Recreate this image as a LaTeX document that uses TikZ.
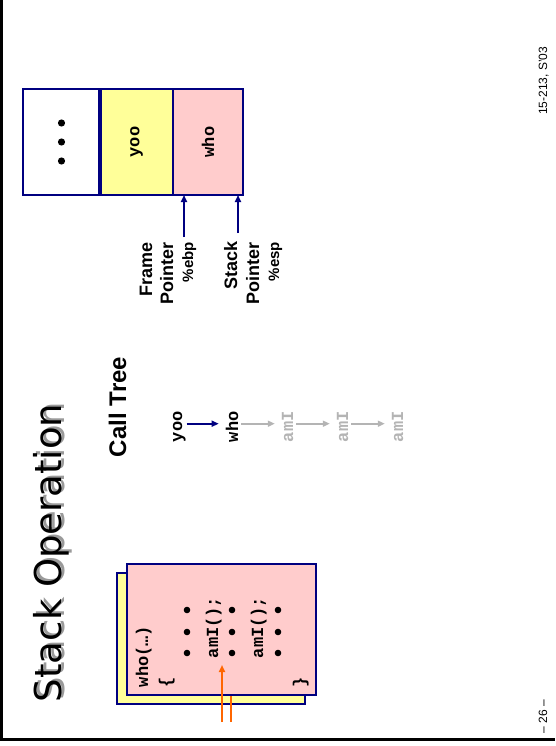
\documentclass[tikz,border=0pt]{standalone}
\usepackage{fontspec}
\setmainfont{Liberation Sans}
\newfontfamily\codefont{Liberation Mono}
\newfontfamily\titlefont{DejaVu Sans}
\usetikzlibrary{arrows.meta}
\definecolor{navy}{HTML}{000080}
\definecolor{framepink}{HTML}{FFCCCC}
\definecolor{frameyellow}{HTML}{FFFF99}
\definecolor{callgray}{HTML}{B4B4B4}
\definecolor{pcorange}{HTML}{FF6600}
\definecolor{shadowgray}{HTML}{9A9A9A}
\begin{document}
\begin{tikzpicture}[x=1pt,y=-1pt,
  vtext/.style={rotate=90, inner sep=0pt, outer sep=0pt},
  codetext/.style={vtext, font=\codefont\bfseries\fontsize{17}{20}\selectfont},
  labeltext/.style={vtext, font=\bfseries\fontsize{18}{21}\selectfont},
  regtext/.style={vtext, font=\bfseries\fontsize{15}{18}\selectfont},
  foottext/.style={vtext, font=\fontsize{12}{14}\selectfont},
  titletext/.style={vtext, font=\titlefont\fontsize{37}{40}\selectfont},
  slot/.style={rectangle, draw=none, inner sep=0pt, outer sep=0pt, minimum height=106pt},
  card/.style={rectangle, draw=navy, line width=2pt, inner sep=0pt, minimum height=131pt},
  tip/.style={-{Triangle[length=7pt,width=6pt]}},
  callarrow/.style={tip, line width=1.6pt, shorten <=3pt, shorten >=7pt},
  ptrarrow/.style={tip, navy, line width=1.6pt},
  pcarrow/.style={pcorange, line width=2.4pt},
  bullet/.style={fill=black}
]
\useasboundingbox (0,0) rectangle (555,746);

% slide frame
\draw[line width=3pt] (1.5,0) -- (1.5,739) -- (555,739);

% title with drop shadow
\node[titletext, anchor=base west, text=shadowgray] (titleShadow) at (64.5,700) {Stack Operation};
\node[titletext, anchor=base west] (title) at (61,702) {Stack Operation};

% stack frames
\node[slot, fill=white, minimum width=77pt] (dotsSlot) at (61.5,142) {};
\node[slot, fill=frameyellow, minimum width=73pt] (yooSlot) at (136.5,142) {};
\node[slot, fill=framepink, minimum width=70pt] (whoSlot) at (208,142) {};
\draw[navy, line width=2pt] (dotsSlot.north west) rectangle (whoSlot.south east);
\draw[navy, line width=4pt] (dotsSlot.north east) -- (dotsSlot.south east);
\draw[navy, line width=1.2pt] (yooSlot.north east) -- (yooSlot.south east);
\fill[bullet] (61.5,123) circle (3.6);
\fill[bullet] (61.5,142) circle (3.6);
\fill[bullet] (61.5,161) circle (3.6);
\node[codetext] (yooName) at (yooSlot.center) {yoo};
\node[codetext] (whoName) at (whoSlot.center) {who};

% frame pointer
\node[labeltext, anchor=base east] (fpLineA) at (152,242) {Frame};
\node[labeltext, anchor=base east] (fpLineB) at (173,242) {Pointer};
\node[regtext, anchor=base east] (fpReg) at (193,242) {\%ebp};
\coordinate (ebpTail) at (184,237);
\draw[ptrarrow] (ebpTail) -- (ebpTail |- whoSlot.south);

% stack pointer
\node[labeltext, anchor=base east] (spLineA) at (237,241) {Stack};
\node[labeltext, anchor=base east] (spLineB) at (259,242) {Pointer};
\node[regtext, anchor=base east] (spReg) at (279,242) {\%esp};
\coordinate (espTail) at (238,233);
\draw[ptrarrow] (espTail) -- (espTail |- whoSlot.south);

% call tree
\node[vtext, anchor=base west, font=\bfseries\fontsize{24}{28}\selectfont] (treeHead) at (126,457) {Call Tree};
\node[codetext, anchor=base west] (yoo) at (182,442) {yoo};
\node[codetext, anchor=base west] (who) at (238,442) {who};
\node[codetext, anchor=base west, text=callgray] (amIa) at (293,442) {amI};
\node[codetext, anchor=base west, text=callgray] (amIb) at (348,442) {amI};
\node[codetext, anchor=base west, text=callgray] (amIc) at (403,442) {amI};
\draw[callarrow, navy, shorten <=1pt] ([yshift=3pt]yoo.south) -- ([yshift=3pt]who.north);
\draw[callarrow, callgray] ([yshift=3pt]who.south) -- ([yshift=3pt]amIa.north);
\draw[callarrow, callgray] ([yshift=3pt]amIa.south) -- ([yshift=3pt]amIb.north);
\draw[callarrow, callgray] ([yshift=3pt]amIb.south) -- ([yshift=3pt]amIc.north);

% code listing cards
\node[card, fill=frameyellow, minimum width=188pt] (yellowCard) at (211,638.5) {};
\node[card, fill=framepink, minimum width=189pt] (pinkCard) at (221.5,629.5) {};
\node[codetext, anchor=base west] (codeHead) at (148,687) {who(…)};
\node[codetext, anchor=base west] (codeOpen) at (171,687) {\{};
\node[codetext, anchor=base west] (callOne) at (218,658) {amI();};
\node[codetext, anchor=base west] (callTwo) at (263,658) {amI();};
\node[codetext, anchor=base west] (codeClose) at (305,687) {\}};
\foreach \cx in {187,232,278} {
  \foreach \cy in {610,632,653} {
    \fill[bullet] (\cx,\cy) circle (3.3);
  }
}

% execution marker
\coordinate (pcTail) at (222,722);
\coordinate (pcHead) at (222,665);
\draw[pcarrow, tip] (pcTail) -- (pcHead);
\coordinate (retTail) at (231,722);
\draw[pcarrow] (retTail) -- (retTail |- pinkCard.south);

% footer
\node[foottext, anchor=base west] (course) at (547,115) {15-213, S’03};
\node[foottext, anchor=base west] (pageNo) at (547,733) {– 26 –};
\end{tikzpicture}
\end{document}
